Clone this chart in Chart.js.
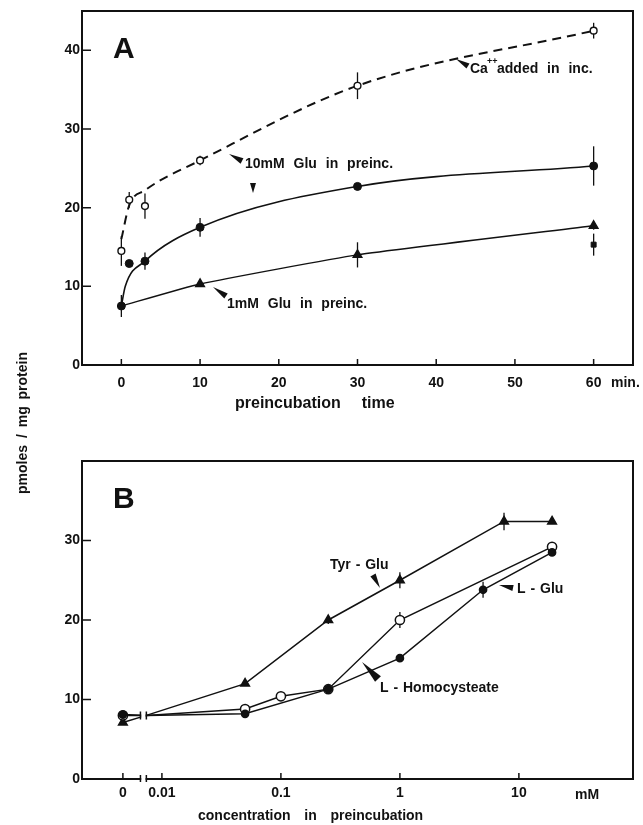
<!DOCTYPE html>
<html>
<head>
<meta charset="utf-8">
<script src="https://cdn.jsdelivr.net/npm/chart.js@4.4.1/dist/chart.umd.min.js"></script>
<style>
  html, body { margin: 0; padding: 0; background: #fff; }
  body { width: 643px; height: 825px; position: relative; overflow: hidden; }
  .panel { position: absolute; left: 0; width: 643px; }
  #wrapA { top: 0; height: 418px; }
  #wrapB { top: 418px; height: 407px; }
  .ytitle {
    position: absolute; left: 22px; top: 423px;
    transform: translate(-50%, -50%) rotate(-90deg);
    font: bold 14px 'Liberation Sans', Arial, sans-serif;
    word-spacing: 3px; white-space: nowrap; color: #111;
  }
</style>
</head>
<body>
<div class="panel" id="wrapA"><canvas id="chartA"></canvas></div>
<div class="panel" id="wrapB"><canvas id="chartB"></canvas></div>
<div class="ytitle">pmoles / mg protein</div>

<script>
// ---- panel A : preincubation time (min) ----
const timeTicks = [0, 10, 20, 30, 40, 50, 60];
const yTicksA = [0, 10, 20, 30, 40];

// Ca++ added in incubation (open circles, dashed curve)
const caTime = [0, 1, 3, 10, 30, 60];
const caVal = [14.5, 21, 20.2, 26, 35.5, 42.5];
const caErr = [1.9, 1, 1.6, 0.6, 1.7, 1];
const caCurveTime = [0, 1, 3, 10, 30, 60];
const caCurveVal = [16, 20.3, 22.2, 26, 35.5, 42.5];

// 10 mM Glu in preincubation (filled circles)
const glu10Time = [0, 1, 3, 10, 30, 60];
const glu10Val = [7.5, 12.9, 13.2, 17.5, 22.7, 25.3];
const glu10Err = [1.4, 0, 1.1, 1.2, 0.3, 2.5];
const glu10CurveTime = [0, 0.5, 3, 10, 30, 60];
const glu10CurveVal = [7.5, 10, 13.2, 17.5, 22.7, 25.3];

// 1 mM Glu in preincubation (triangles)
const glu1Time = [0, 10, 30, 60];
const glu1Val = [7.5, 10.3, 14, 17.7];
const glu1Err = [0, 0.3, 1.6, 0.5];

// filled square
const sqTime = [60];
const sqVal = [15.3];
const sqErr = [1.4];

// ---- panel B : concentration in preincubation (mM) ----
const concTicks = [0, 0.01, 0.1, 1, 10];
const concTickLabels = ['0', '0.01', '0.1', '1', '10'];
const yTicksB = [0, 10, 20, 30];
const zeroConc = 0.0047;            // where "0" sits on the broken log axis
const breakConc = [0.0066, 0.0074]; // axis break
const breakVal = 8;                 // level where the lines resume after the break

const tyrConc = [0, 0.05, 0.25, 1, 7.5, 19];
const tyrVal = [7.1, 12, 20, 25, 32.4, 32.4];
const tyrErr = [0, 0.3, 0.5, 1, 1.1, 0.3];

const openConc = [0, 0.05, 0.1, 0.25, 1, 19];
const openVal = [8, 8.8, 10.4, 11.3, 20, 29.2];
const openErr = [0, 0.3, 0.3, 0, 1, 0.5];

const filledConc = [0, 0.05, 0.25, 1, 5, 19];
const filledVal = [8.1, 8.2, 11.3, 15.2, 23.8, 28.5];
const filledErr = [0, 0, 0.4, 0, 1, 0.3];

// ---------------------------------------------
const INK = '#111';
const FONT = "'Liberation Sans', Arial, sans-serif";

function pts(xs, ys) {
  return xs.map((x, i) => ({ x: x, y: ys[i] }));
}

// log axis has no zero: put 0 at zeroConc and restart the line after the break
function ptsB(xs, ys) {
  const out = [];
  xs.forEach((x, i) => {
    if (x === 0) {
      out.push({ x: zeroConc, y: ys[i] });
      out.push({ x: breakConc[1], y: breakVal });
    } else {
      out.push({ x: x, y: ys[i] });
    }
  });
  return out;
}

function errAlign(xs, errs) {
  const out = [];
  xs.forEach((x, i) => {
    out.push(errs[i]);
    if (x === 0) out.push(0);
  });
  return out;
}

function rB(xs, r) {
  const out = [];
  xs.forEach(x => { out.push(r); if (x === 0) out.push(0); });
  return out;
}

function txt(ctx, s, x, y, size, bold, spacing) {
  ctx.save();
  ctx.font = (bold ? 'bold ' : '') + size + 'px ' + FONT;
  ctx.fillStyle = INK;
  ctx.textBaseline = 'alphabetic';
  ctx.textAlign = 'left';
  if (spacing) ctx.wordSpacing = spacing + 'px';
  ctx.fillText(s, x, y);
  ctx.restore();
}

function wedge(ctx, tx, ty, bx, by, w) {
  const dx = bx - tx, dy = by - ty, len = Math.hypot(dx, dy);
  const nx = -dy / len * w / 2, ny = dx / len * w / 2;
  ctx.save();
  ctx.fillStyle = INK;
  ctx.beginPath();
  ctx.moveTo(tx, ty);
  ctx.lineTo(bx + nx, by + ny);
  ctx.lineTo(bx - nx, by - ny);
  ctx.closePath();
  ctx.fill();
  ctx.restore();
}

// frame, inward ticks, error bars, then extras
function paper(xTickVals, yTickVals, extras, afterData) {
  return {
    id: 'paper',
    beforeDatasetsDraw(chart) {
      const { ctx, chartArea: a, scales } = chart;
      ctx.save();
      ctx.strokeStyle = INK;
      ctx.lineWidth = 2;
      ctx.strokeRect(a.left, a.top, a.right - a.left, a.bottom - a.top);
      ctx.lineWidth = 1.5;
      ctx.beginPath();
      xTickVals.forEach(v => {
        const px = scales.x.getPixelForValue(v);
        ctx.moveTo(px, a.bottom);
        ctx.lineTo(px, a.bottom - 6);
      });
      yTickVals.forEach(v => {
        const py = scales.y.getPixelForValue(v);
        ctx.moveTo(a.left, py);
        ctx.lineTo(a.left + 9, py);
      });
      ctx.stroke();

      // error bars
      ctx.lineWidth = 1.3;
      chart.data.datasets.forEach((ds, di) => {
        if (!ds.errors) return;
        const meta = chart.getDatasetMeta(di);
        ds.data.forEach((p, i) => {
          const e = ds.errors[i];
          if (!e) return;
          const px = meta.data[i].x;
          ctx.beginPath();
          ctx.moveTo(px, scales.y.getPixelForValue(p.y - e));
          ctx.lineTo(px, scales.y.getPixelForValue(p.y + e));
          ctx.stroke();
        });
      });
      ctx.restore();
    },
    afterDatasetsDraw(chart) {
      if (afterData) afterData(chart);
    },
    afterDraw(chart) {
      extras(chart);
    },
  };
}

const tickFont = { family: FONT, size: 14, weight: 'bold' };

// ================= PANEL A =================
const ctxA = document.getElementById('chartA');
ctxA.width = 643; ctxA.height = 418;

new Chart(ctxA, {
  type: 'scatter',
  data: {
    datasets: [
      {
        label: 'Ca fit',
        data: pts(caCurveTime, caCurveVal),
        showLine: true, pointRadius: 0,
        borderColor: INK, borderWidth: 2, borderDash: [9, 6],
        cubicInterpolationMode: 'monotone',
        order: 5,
      },
      {
        label: 'Ca++ added in inc.',
        data: pts(caTime, caVal),
        errors: caErr,
        pointRadius: 3.4, pointBackgroundColor: '#fff',
        pointBorderColor: INK, pointBorderWidth: 1.4,
        order: 1,
      },
      {
        label: '10mM fit',
        data: pts(glu10CurveTime, glu10CurveVal),
        showLine: true, pointRadius: 0,
        borderColor: INK, borderWidth: 1.6,
        cubicInterpolationMode: 'monotone',
        order: 5,
      },
      {
        label: '10mM Glu in preinc.',
        data: pts(glu10Time, glu10Val),
        errors: glu10Err,
        pointRadius: 4, pointBackgroundColor: INK,
        pointBorderColor: INK, pointBorderWidth: 1,
        order: 0,
      },
      {
        label: '1mM Glu in preinc.',
        data: pts(glu1Time, glu1Val),
        errors: glu1Err,
        showLine: true, tension: 0.15,
        borderColor: INK, borderWidth: 1.4,
        pointStyle: 'triangle',
        pointRadius: glu1Time.map(t => (t === 0 ? 0 : 5)),
        pointBackgroundColor: INK, pointBorderColor: INK,
        order: 2,
      },
      {
        label: 'square',
        data: pts(sqTime, sqVal),
        errors: sqErr,
        pointStyle: 'rect', pointRadius: 3.5,
        pointBackgroundColor: INK, pointBorderColor: INK,
        order: 2,
      },
    ],
  },
  options: {
    responsive: false,
    animation: false,
    events: [],
    layout: { padding: { top: 11, right: 10, left: 0, bottom: 0 } },
    scales: {
      x: {
        type: 'linear', min: -5, max: 65,
        afterBuildTicks: s => { s.ticks = timeTicks.map(v => ({ value: v })); },
        afterFit: s => { s.height = 53; },
        grid: { display: false, drawTicks: false }, border: { display: false },
        ticks: { font: tickFont, color: INK, padding: 10, maxRotation: 0, autoSkip: false },
      },
      y: {
        min: 0, max: 45,
        afterBuildTicks: s => { s.ticks = yTicksA.map(v => ({ value: v })); },
        afterFit: s => { s.width = 82; },
        grid: { display: false, drawTicks: false }, border: { display: false },
        ticks: { font: tickFont, color: INK, padding: 2 },
      },
    },
    plugins: { legend: { display: false }, tooltip: { enabled: false } },
  },
  plugins: [paper(timeTicks, yTicksA, chart => {
    const ctx = chart.ctx;
    txt(ctx, 'A', 113, 58, 30, true);

    // Ca++ label
    wedge(ctx, 456, 59, 468, 66, 6);
    txt(ctx, 'Ca', 470, 73, 14, true);
    txt(ctx, '++', 487, 64, 9, true);
    txt(ctx, 'added in inc.', 497, 73, 14, true, 5);

    // 10 mM label
    wedge(ctx, 229, 154, 242, 161, 6);
    txt(ctx, '10mM Glu in preinc.', 245, 168, 14, true, 5);
    wedge(ctx, 253, 193, 253, 183, 6);

    // 1 mM label
    wedge(ctx, 213, 287, 226, 296, 6);
    txt(ctx, '1mM Glu in preinc.', 227, 308, 14, true, 5);

    // unit next to last tick, axis title
    txt(ctx, 'min.', 611, 387, 14, true);
    txt(ctx, 'preincubation  time', 235, 408, 16, true, 6);
  })],
});

// ================= PANEL B =================
const ctxB = document.getElementById('chartB');
ctxB.width = 643; ctxB.height = 407;

function lineB(label, xs, ys, errs, style) {
  return Object.assign({
    label: label,
    data: ptsB(xs, ys),
    errors: errAlign(xs, errs),
    showLine: true, tension: 0,
    borderColor: INK, borderWidth: 1.5,
    pointBorderColor: INK,
  }, style(xs));
}

new Chart(ctxB, {
  type: 'scatter',
  data: {
    datasets: [
      lineB('L-Glu', filledConc, filledVal, filledErr, xs => ({
        pointRadius: rB(xs, 3.6), pointBackgroundColor: INK, order: 0,
      })),
      lineB('L-Homocysteate', openConc, openVal, openErr, xs => ({
        pointRadius: rB(xs, 4.6), pointBackgroundColor: '#fff', pointBorderWidth: 1.5, order: 1,
      })),
      lineB('Tyr-Glu', tyrConc, tyrVal, tyrErr, xs => ({
        pointStyle: 'triangle', pointRadius: rB(xs, 5), pointBackgroundColor: INK, order: 2,
      })),
    ],
  },
  options: {
    responsive: false,
    animation: false,
    events: [],
    layout: { padding: { top: 43, right: 10, left: 0, bottom: 0 } },
    scales: {
      x: {
        type: 'logarithmic', min: 0.00213, max: 91,
        afterBuildTicks: s => {
          s.ticks = concTicks.map(v => ({ value: v === 0 ? zeroConc : v }));
        },
        afterFit: s => { s.height = 46; },
        grid: { display: false, drawTicks: false }, border: { display: false },
        ticks: {
          font: tickFont, color: INK, padding: 6, maxRotation: 0, autoSkip: false,
          callback: (v, i) => concTickLabels[i],
        },
      },
      y: {
        min: 0, max: 40,
        afterBuildTicks: s => { s.ticks = yTicksB.map(v => ({ value: v })); },
        afterFit: s => { s.width = 82; },
        grid: { display: false, drawTicks: false }, border: { display: false },
        ticks: { font: tickFont, color: INK, padding: 2 },
      },
    },
    plugins: { legend: { display: false }, tooltip: { enabled: false } },
  },
  plugins: [paper(concTicks.map(v => (v === 0 ? zeroConc : v)), yTicksB, chart => {
    const ctx = chart.ctx;
    ctx.save();
    ctx.translate(0, -418); // page coordinates
    txt(ctx, 'B', 113, 508, 30, true);

    wedge(ctx, 380, 588, 373, 575, 6);
    txt(ctx, 'Tyr - Glu', 330, 569, 14, true, 1);

    wedge(ctx, 499, 585, 513, 588, 6);
    txt(ctx, 'L - Glu', 517, 593, 14, true, 1);

    wedge(ctx, 362, 662, 378, 679, 8);
    txt(ctx, 'L - Homocysteate', 380, 692, 14, true, 1);

    txt(ctx, 'mM', 575, 799, 14, true);
    txt(ctx, 'concentration  in  preincubation', 198, 820, 14, true, 3);
    ctx.restore();
  }, chart => {
    // axis break: white gap + double marks
    const { ctx, chartArea: a, scales } = chart;
    const x0 = scales.x.getPixelForValue(breakConc[0]);
    const x1 = scales.x.getPixelForValue(breakConc[1]);
    const yTop = scales.y.getPixelForValue(11);
    ctx.save();
    ctx.fillStyle = '#fff';
    ctx.fillRect(x0 + 0.8, yTop, x1 - x0 - 1.6, a.bottom + 4 - yTop);
    ctx.strokeStyle = INK;
    ctx.lineWidth = 1.5;
    ctx.beginPath();
    [x0, x1].forEach(px => {
      ctx.moveTo(px, scales.y.getPixelForValue(breakVal - 0.5));
      ctx.lineTo(px, scales.y.getPixelForValue(breakVal + 0.5));
      ctx.moveTo(px, a.bottom - 4);
      ctx.lineTo(px, a.bottom + 3);
    });
    ctx.stroke();
    ctx.restore();
  })],
});
</script>
</body>
</html>
